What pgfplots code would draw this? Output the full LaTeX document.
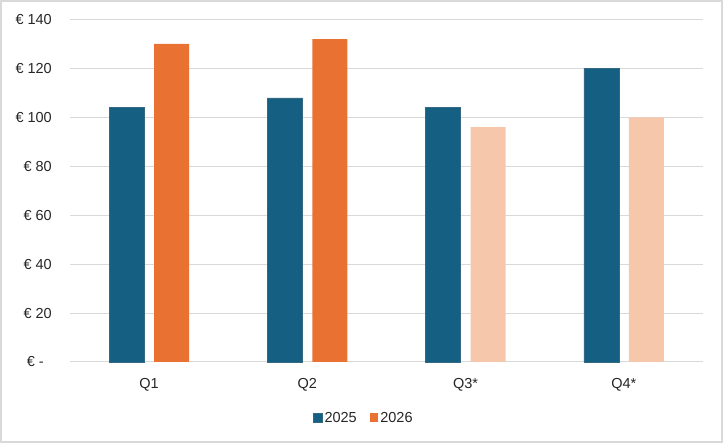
\documentclass[border=0pt]{standalone}
\usepackage{fontspec}
\setmainfont{Liberation Sans}
\usepackage{pgfplots}
\pgfplotsset{compat=1.18}
\definecolor{cblue}{HTML}{156082}
\definecolor{corange}{HTML}{E97132}
\definecolor{clight}{HTML}{F7C7AC}
\definecolor{cgrid}{HTML}{D9D9D9}
\definecolor{ctext}{HTML}{262626}
\begin{document}
\begin{tikzpicture}
\path[use as bounding box] (0bp,0bp) rectangle (723bp,444bp);
\draw[cgrid, line width=1.2bp] (1bp,2bp) rectangle (722bp,443bp);
\begin{axis}[
  at={(70bp,82bp)}, anchor=south west,
  scale only axis, width=633bp, height=342.5bp,
  xmin=-0.5, xmax=3.5, ymin=0, ymax=140,
  ybar, bar width=35bp,
  axis line style={draw=none},
  major tick length=0pt,
  ymajorgrids, grid style={cgrid, line width=1bp},
  ytick={0,20,40,60,80,100,120,140},
  yticklabels={€ -\hphantom{0},€ 20,€ 40,€ 60,€ 80,€ 100,€ 120,€ 140},
  xtick={0,1,2,3},
  xticklabels={Q1,Q2,Q3*,Q4*},
  tick label style={font=\fontsize{14.5bp}{17bp}\selectfont, text=ctext},
  yticklabel style={anchor=east, inner sep=0pt, xshift=-18bp},
  xticklabel style={anchor=base, inner sep=0pt, yshift=-26.5bp},
  legend columns=2,
  legend style={at={(0.4645,-0.1626)}, anchor=center, draw=none, fill=none,
    font=\fontsize{14.5bp}{17bp}\selectfont, text=ctext,
    /tikz/every even column/.append style={column sep=11bp}},
  legend image code/.code={\fill[#1] (0bp,-4.3bp) rectangle (8.6bp,4.3bp);},
  clip=false,
]
\addplot[fill=cblue, draw=cblue!70!gray, line width=0.5bp, bar shift=-22.4bp] coordinates {(0,104) (1,108) (2,104) (3,120)};
\addlegendentry{2025}
\addplot[fill=corange, draw=none, bar shift=22.4bp] coordinates {(0,130) (1,132)};
\addlegendentry{2026}
\addplot[fill=clight, draw=none, bar shift=22.4bp, forget plot] coordinates {(2,96) (3,100)};
\end{axis}
\end{tikzpicture}
\end{document}
